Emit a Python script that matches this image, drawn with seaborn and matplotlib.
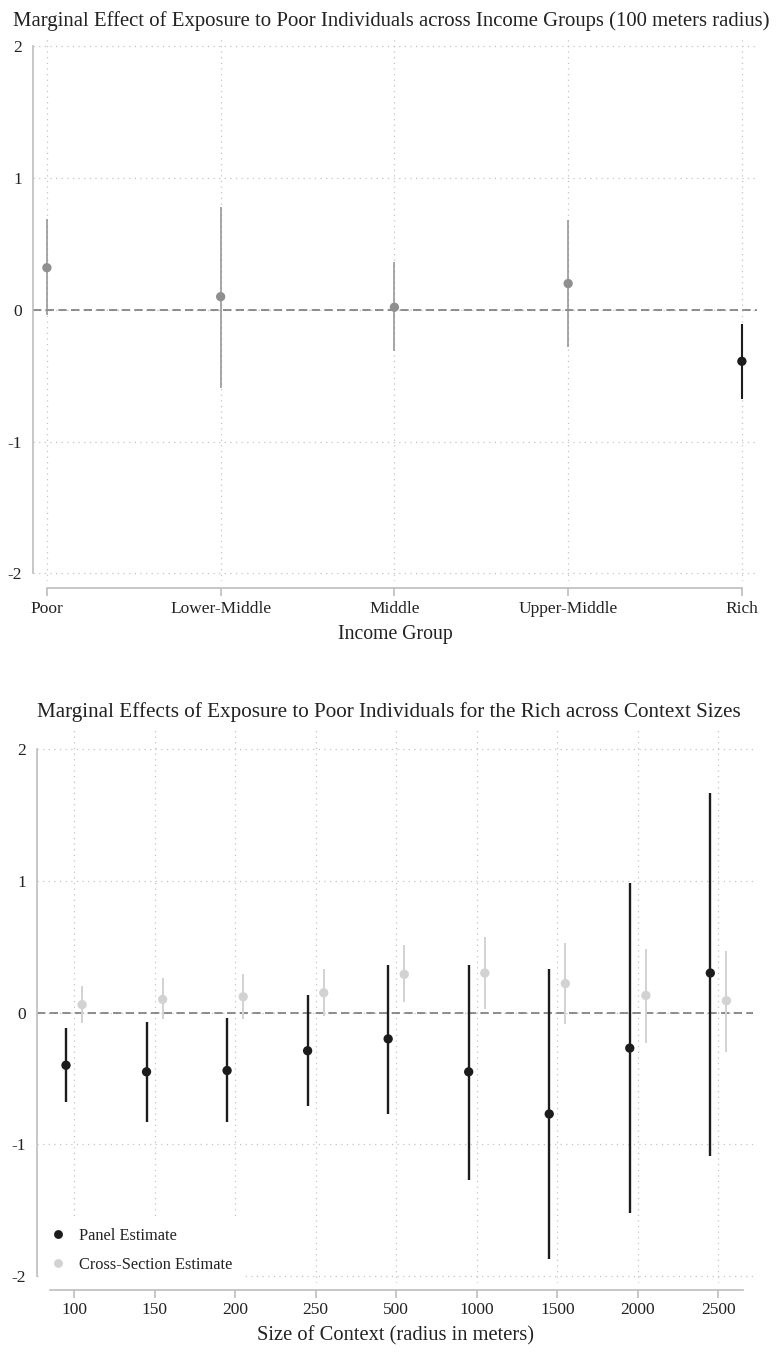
import numpy as np
import pandas as pd
import matplotlib
matplotlib.use("Agg")
import matplotlib.pyplot as plt
import seaborn as sns

# ----------- Data -----------
income_groups = ["Poor", "Lower-Middle", "Middle", "Upper-Middle", "Rich"]
income_est = [0.32, 0.10, 0.02, 0.20, -0.39]
income_lo = [-0.04, -0.59, -0.31, -0.28, -0.68]
income_hi = [0.69, 0.78, 0.36, 0.68, -0.11]
income_sig = [False, False, False, False, True]

context_sizes = ["100", "150", "200", "250", "500", "1000", "1500", "2000", "2500"]
panel_est = [-0.40, -0.45, -0.44, -0.29, -0.20, -0.45, -0.77, -0.27, 0.30]
panel_lo = [-0.68, -0.83, -0.83, -0.71, -0.77, -1.27, -1.87, -1.52, -1.09]
panel_hi = [-0.12, -0.07, -0.04, 0.13, 0.36, 0.36, 0.33, 0.98, 1.67]
cross_est = [0.06, 0.10, 0.12, 0.15, 0.29, 0.30, 0.22, 0.13, 0.09]
cross_lo = [-0.08, -0.05, -0.05, -0.03, 0.08, 0.03, -0.09, -0.23, -0.30]
cross_hi = [0.20, 0.26, 0.29, 0.33, 0.51, 0.57, 0.53, 0.48, 0.47]

y_ticks = [-2, -1, 0, 1, 2]

sns.set_theme(style="white")
plt.rcParams["font.family"] = ["Liberation Serif", "DejaVu Serif"]
plt.rcParams["text.color"] = "#222222"
plt.rcParams["axes.labelcolor"] = "#222222"
plt.rcParams["xtick.color"] = "#b8b8b8"
plt.rcParams["ytick.color"] = "#b8b8b8"
plt.rcParams["xtick.labelcolor"] = "#222222"
plt.rcParams["ytick.labelcolor"] = "#222222"

spine_col = "#bdbdbd"
grid_col = "#c4c4c4"
sig_col = "#1c1c1c"
nonsig_col = "#8f8f8f"
cross_col = "#d2d2d2"


def style_axes(ax, xbounds):
    ax.grid(True, linestyle=(0, (1, 3.5)), color=grid_col, linewidth=0.9)
    ax.set_axisbelow(True)
    for s in ["top", "right"]:
        ax.spines[s].set_visible(False)
    for s in ["left", "bottom"]:
        ax.spines[s].set_color(spine_col)
        ax.spines[s].set_linewidth(1.2)
    ax.spines["left"].set_bounds(-2, 2)
    ax.spines["bottom"].set_bounds(*xbounds)
    ax.spines["bottom"].set_position(("outward", 5))
    ax.set_yticks(y_ticks)
    ax.set_yticklabels([str(t) for t in y_ticks])
    ax.tick_params(axis="y", length=6, width=1.1, pad=2, labelsize=12.5)
    ax.tick_params(axis="x", length=6, width=1.1, pad=3, labelsize=12.5, bottom=True)
    ax.axhline(0, color="#7a7a7a", linestyle=(0, (5, 2.6)), linewidth=1.2, zorder=1.5)


fig = plt.figure(figsize=(7.76, 13.52), dpi=100)

# ----------- Top panel: income groups -----------
ax1 = fig.add_axes([33 / 776, 0.570, (757 - 33) / 776, 0.4016])
df_inc = pd.DataFrame({
    "pos": np.arange(len(income_groups)),
    "est": income_est,
    "lo": income_lo,
    "hi": income_hi,
    "sig": ["sig" if s else "ns" for s in income_sig],
})
for sig, col, lw in [("ns", nonsig_col, 1.1), ("sig", sig_col, 1.5)]:
    sub = df_inc[df_inc["sig"] == sig]
    ax1.vlines(sub["pos"], sub["lo"], sub["hi"], color=col, linewidth=lw, zorder=2)
sns.scatterplot(data=df_inc, x="pos", y="est", hue="sig",
                palette={"ns": nonsig_col, "sig": sig_col},
                s=45, edgecolor="none", legend=False, zorder=3, ax=ax1)
ax1.set_xlim(-0.08, 4.087)
ax1.set_ylim(-2.06, 2.06)
ax1.set_xticks(df_inc["pos"])
ax1.set_xticklabels(income_groups)
style_axes(ax1, (0, 4))
ax1.set_xlabel("Income Group", fontsize=14.2, labelpad=6)
ax1.set_ylabel("")
ax1.set_title("Marginal Effect of Exposure to Poor Individuals across Income Groups (100 meters radius)",
              fontsize=14.95, pad=9, x=0.4945)

# ----------- Bottom panel: context sizes -----------
ax2 = fig.add_axes([37 / 776, 0.0513, (753 - 37) / 776, 0.4093])
n = len(context_sizes)
df_ctx = pd.concat([
    pd.DataFrame({"pos": np.arange(n) - 0.1, "est": panel_est, "lo": panel_lo,
                  "hi": panel_hi, "series": "Panel Estimate"}),
    pd.DataFrame({"pos": np.arange(n) + 0.1, "est": cross_est, "lo": cross_lo,
                  "hi": cross_hi, "series": "Cross-Section Estimate"}),
], ignore_index=True)
pal = {"Panel Estimate": sig_col, "Cross-Section Estimate": cross_col}
for name, lw in [("Cross-Section Estimate", 1.4), ("Panel Estimate", 1.7)]:
    sub = df_ctx[df_ctx["series"] == name]
    ax2.vlines(sub["pos"], sub["lo"], sub["hi"], color=pal[name], linewidth=lw, zorder=2)
sns.scatterplot(data=df_ctx, x="pos", y="est", hue="series", palette=pal,
                s=45, edgecolor="none", zorder=3, ax=ax2)
ax2.set_xlim(-0.46, 8.43)
ax2.set_ylim(-2.05, 2.15)
ax2.set_xticks(np.arange(n))
ax2.set_xticklabels(context_sizes)
style_axes(ax2, (-0.3, 8.3))
ax2.set_xlabel("Size of Context (radius in meters)", fontsize=14.8, labelpad=6)
ax2.set_ylabel("")
ax2.set_title("Marginal Effects of Exposure to Poor Individuals for the Rich across Context Sizes",
              fontsize=15.2, pad=9, x=0.491)

handles, labels = ax2.get_legend_handles_labels()
leg = ax2.legend(handles, labels, loc="lower left", bbox_to_anchor=(0.004, 0.0),
                 frameon=True, facecolor="white", edgecolor="white", framealpha=1,
                 fontsize=11.8, handlelength=1.0, handletextpad=0.8, borderaxespad=0,
                 borderpad=0.6, labelspacing=0.8, markerscale=0.95)
leg.set_zorder(4)

fig.savefig("out.png", dpi=100, facecolor="white")
